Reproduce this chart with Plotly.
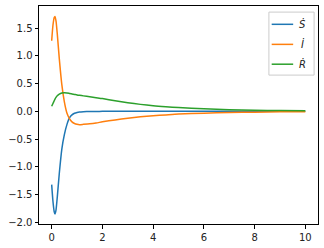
import plotly.graph_objects as go

t = [0, 0.05, 0.1, 0.13, 0.17, 0.22, 0.3, 0.4, 0.5, 0.6, 0.7, 0.8, 0.9, 1.0, 1.1,
     1.25, 1.5, 1.75, 2.0, 2.5, 3.0, 3.5, 4.0, 4.5, 5.0, 6.0, 7.0, 8.0, 9.0, 10.0]

s_dot = [-1.32, -1.62, -1.81, -1.85, -1.78, -1.55, -1.12, -0.68, -0.42, -0.24, -0.12,
         -0.065, -0.035, -0.02, -0.012, -0.007, -0.003, -0.002, -0.001, -0.0006, -0.0004,
         -0.0003, -0.0002, -0.0001, -0.0001, 0, 0, 0, 0, 0]

i_dot = [1.27, 1.55, 1.69, 1.71, 1.63, 1.40, 0.95, 0.48, 0.17, -0.03, -0.13,
         -0.19, -0.22, -0.235, -0.24, -0.235, -0.225, -0.21, -0.19, -0.155, -0.125,
         -0.10, -0.08, -0.065, -0.05, -0.033, -0.022, -0.015, -0.01, -0.007]

r_dot = [0.09, 0.14, 0.19, 0.22, 0.25, 0.28, 0.31, 0.33, 0.335, 0.33, 0.322,
         0.313, 0.304, 0.295, 0.288, 0.278, 0.262, 0.246, 0.23, 0.19, 0.155,
         0.125, 0.10, 0.082, 0.067, 0.045, 0.03, 0.02, 0.014, 0.01]

names = ["<i>Ṡ</i>", "<i>İ</i>", "<i>Ṙ</i>"]
colors = ["#1f77b4", "#ff7f0e", "#2ca02c"]

x_ticks = [0, 2, 4, 6, 8, 10]
y_ticks = [-2.0, -1.5, -1.0, -0.5, 0.0, 0.5, 1.0, 1.5]

fig = go.Figure()
for y, n, c in zip([s_dot, i_dot, r_dot], names, colors):
    fig.add_trace(go.Scatter(x=t, y=y, mode="lines", name=n, showlegend=False,
                             line=dict(color=c, width=1.5, shape="spline", smoothing=0.6)))

axis_common = dict(showline=True, linecolor="black", linewidth=1, mirror=True,
                   ticks="outside", ticklen=3.5, tickwidth=1, tickcolor="black",
                   showgrid=False, zeroline=False, automargin=False,
                   tickfont=dict(family="DejaVu Sans", size=10, color="#222"))

fig.update_xaxes(range=[-0.5, 10.5], tickvals=x_ticks, **axis_common)
fig.update_yaxes(range=[-2.03, 1.897], tickvals=y_ticks, tickformat=".1f", **axis_common)

# manual legend (matplotlib-style)
shapes = [dict(type="rect", xref="paper", yref="paper", x0=0.824, x1=0.986, y0=0.683, y1=0.972,
               line=dict(color="#cccccc", width=1), fillcolor="rgba(255,255,255,0.8)", layer="above")]
annotations = []
leg_y = [0.916, 0.824, 0.733]
for n, c, yy in zip(names, colors, leg_y):
    shapes.append(dict(type="line", xref="paper", yref="paper", x0=0.834, x1=0.911, y0=yy, y1=yy,
                       line=dict(color=c, width=1.5), layer="above"))
    annotations.append(dict(xref="paper", yref="paper", x=0.946, y=yy, text=n, showarrow=False,
                            xanchor="center", yanchor="middle",
                            font=dict(family="DejaVu Sans", size=10, color="#222")))

fig.update_layout(
    width=324, height=248,
    margin=dict(l=39, r=6, t=6, b=24),
    paper_bgcolor="white", plot_bgcolor="white",
    font=dict(family="DejaVu Sans", size=10, color="#222"),
    showlegend=False, hovermode=False,
    shapes=shapes, annotations=annotations,
)

fig.write_html("out.html", config={"displayModeBar": False},
               post_script="document.body.style.margin='0';document.body.style.padding='0';")
